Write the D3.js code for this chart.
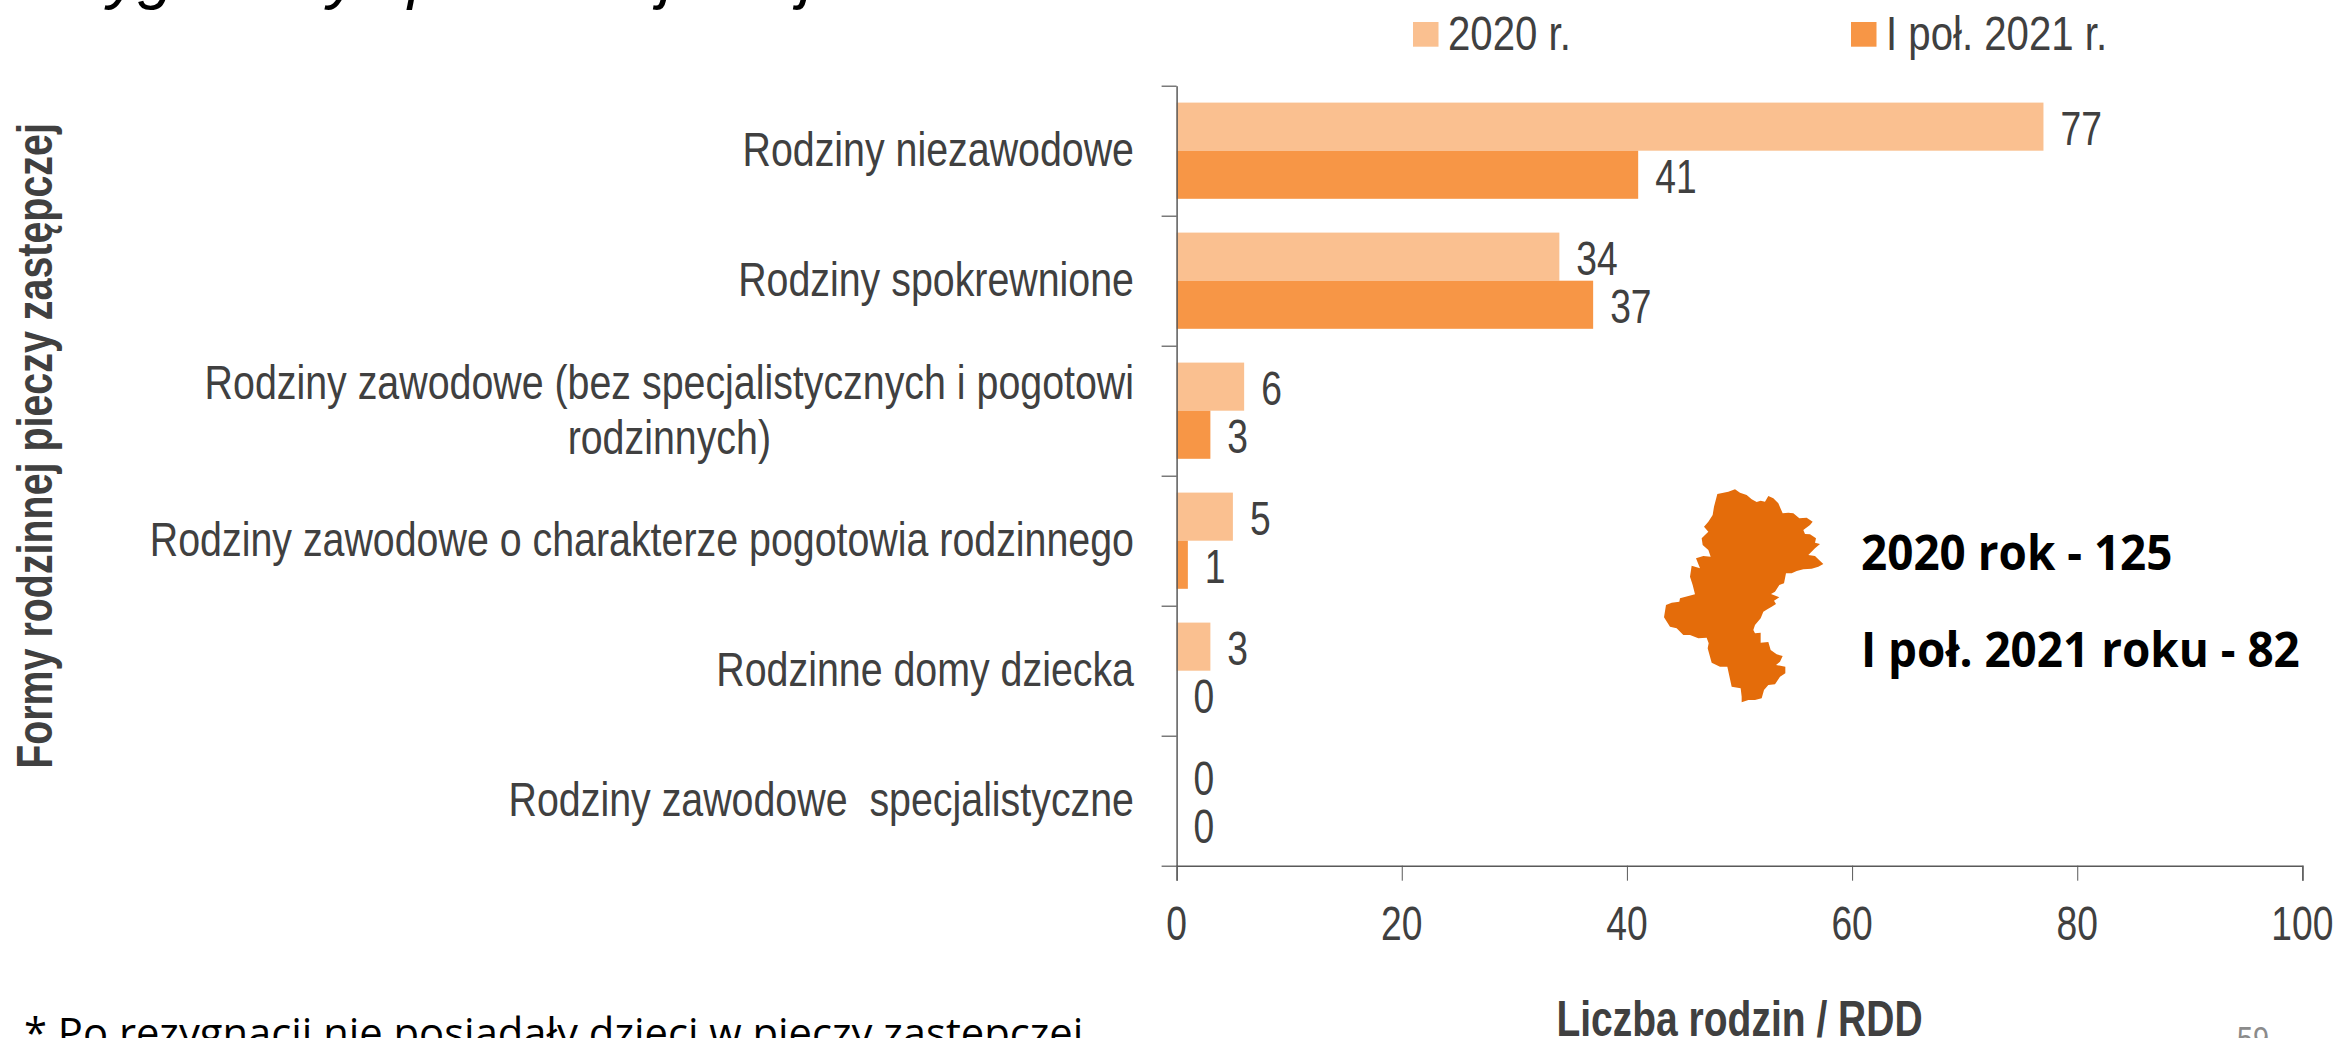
<!DOCTYPE html>
<html>
<head>
<meta charset="utf-8">
<script src="https://cdn.jsdelivr.net/npm/d3@7"></script>
<style>
html, body { margin:0; padding:0; background:#fff; overflow:hidden; }
text { font-family:"Liberation Sans", Arial, sans-serif; white-space:pre; }
</style>
</head>
<body>
<div id="chart"></div>
<script>
var categories = [
  ["Rodziny niezawodowe"],
  ["Rodziny spokrewnione"],
  ["Rodziny zawodowe (bez specjalistycznych i pogotowi", "rodzinnych)"],
  ["Rodziny zawodowe o charakterze pogotowia rodzinnego"],
  ["Rodzinne domy dziecka"],
  ["Rodziny zawodowe  specjalistyczne"]
];
var seriesNames = ["2020 r.", "I poł. 2021 r."];
var values2020 = [77, 34, 6, 5, 3, 0];
var values2021 = [41, 37, 3, 1, 0, 0];
var xTicks = [0, 20, 40, 60, 80, 100];
var xDomain = [0, 100];
var summaryLines = ["2020 rok - 125", "I poł. 2021 roku - 82"];
var yTitle = "Formy rodzinnej pieczy zastępczej";
var xTitle = "Liczba rodzin / RDD";
var footnote = "* Po rezygnacji nie posiadały dzieci w pieczy zastępczej";
var pageNumber = "59";
// tips of the cropped slide title that still show at the top edge
var titleTips = [["y", 108], ["g", 138], ["y", 328], ["p", 408], ["j", 660], ["j", 800]];
// region outline
var regionOutline = [[285,58],[300,68],[320,75],[335,88],[350,96],[362,92],[375,95],[385,78],[400,85],[415,100],[428,130],[445,128],[460,130],[478,145],[500,143],[518,155],[510,165],[490,180],[495,192],[510,193],[528,205],[525,218],[540,222],[525,235],[505,255],[525,258],[535,268],[550,282],[535,290],[515,296],[490,298],[470,303],[455,310],[438,310],[432,340],[418,345],[405,365],[393,372],[418,382],[402,392],[408,402],[395,410],[382,418],[370,425],[362,445],[345,465],[340,480],[345,490],[362,488],[362,518],[385,516],[392,540],[410,553],[428,558],[420,575],[408,585],[436,590],[436,610],[420,620],[405,643],[385,645],[372,660],[365,685],[345,690],[325,690],[305,697],[305,680],[302,655],[275,650],[262,590],[240,590],[215,578],[203,535],[206,520],[200,503],[175,505],[150,495],[130,495],[110,475],[90,470],[72,442],[78,405],[95,398],[118,395],[120,385],[165,373],[158,345],[150,320],[155,287],[180,295],[168,265],[190,258],[212,260],[205,240],[188,225],[185,205],[205,185],[192,170],[205,155],[218,135],[222,110],[232,72],[265,65],[285,58]];

var width = 2339, height = 1038;
var plot = {left:1176.6, right:2302.4, top:85.7, bottom:865.7};
var textColor = "#404040", lightBar = "#FAC090", darkBar = "#F79646", axisColor = "#595959";

var svg = d3.select("#chart").append("svg")
  .attr("width", width)
  .attr("height", height)
  .attr("viewBox", [0, 0, width, height].join(" "));

var x = d3.scaleLinear().domain(xDomain).range([plot.left, plot.right]);
var y = d3.scaleBand().domain(d3.range(categories.length)).range([plot.top, plot.bottom]).paddingInner(0.26).paddingOuter(0.13);

// narrow text: same heights as the slide, squeezed along the line
function squeezedText(str, px, py, size, squeeze, anchor, opts) {
  opts = opts || {};
  var t = svg.append("text")
    .attr("transform", "translate(" + px + "," + py + ")" + (opts.rotate ? " rotate(" + opts.rotate + ")" : "") + " scale(" + squeeze + ",1)")
    .attr("text-anchor", anchor)
    .attr("font-size", size)
    .attr("font-weight", opts.weight || "normal")
    .attr("fill", opts.fill || textColor)
    .text(str);
  if (opts.family) {
    t.style("font-family", opts.family);
  }
  return t;
}

function drawBars(values, color, offset, cls) {
  svg.selectAll("rect." + cls)
    .data(values)
    .enter().append("rect")
    .attr("class", cls)
    .attr("x", x(0))
    .attr("y", function(d, i) { return y(i) + offset; })
    .attr("width", function(d) { return x(d) - x(0); })
    .attr("height", y.bandwidth() / 2)
    .attr("fill", color);
}
drawBars(values2020, lightBar, 0, "s2020");
drawBars(values2021, darkBar, y.bandwidth() / 2, "s2021");

function drawValues(values, offset) {
  values.forEach(function(d, i) {
    squeezedText(d, x(d) + 17, y(i) + offset + 18, 49, 0.76, "start");
  });
}
drawValues(values2020, y.bandwidth() / 4);
drawValues(values2021, y.bandwidth() * 3 / 4);

// axes
var xAxis = svg.append("g").attr("transform", "translate(0," + plot.bottom + ")")
  .call(d3.axisBottom(x).tickValues(xTicks).tickSize(15).tickFormat(""));
xAxis.selectAll("path").attr("stroke", axisColor).attr("stroke-width", 1.5);
xAxis.selectAll("line").attr("stroke", axisColor).attr("stroke-width", 1);
xTicks.forEach(function(t) {
  squeezedText(t, x(t), 940, 49, 0.76, "middle");
});

var yEdges = d3.scaleLinear().domain([0, categories.length]).range([plot.top, plot.bottom]);
var yAxis = svg.append("g").attr("transform", "translate(" + plot.left + ",0)")
  .call(d3.axisLeft(yEdges).tickValues(d3.range(categories.length + 1)).tickSize(15).tickSizeOuter(0).tickFormat(""));
yAxis.selectAll("path").attr("stroke", axisColor).attr("stroke-width", 1.5);
yAxis.selectAll("line").attr("stroke", axisColor).attr("stroke-width", 1.2);

// category labels
categories.forEach(function(lines, i) {
  var cy = y(i) + y.bandwidth() / 2;
  if (lines.length === 1) {
    squeezedText(lines[0], 1134, cy + 15, 48, 0.82, "end");
  } else {
    squeezedText(lines[0], 1134, cy - 12, 48, 0.82, "end");
    squeezedText(lines[1], 771, cy + 43, 48, 0.82, "end");
  }
});

// axis titles
squeezedText(xTitle, 1739.5, 1036, 50, 0.78, "middle", {weight:"bold"});
squeezedText(yTitle, 51.5, 446, 50, 0.788, "middle", {weight:"bold", rotate:-90});

// legend
var legendX = [1413, 1851];
seriesNames.forEach(function(name, i) {
  svg.append("rect")
    .attr("x", legendX[i]).attr("y", 22).attr("width", 25.5).attr("height", 24.7)
    .attr("fill", i === 0 ? lightBar : darkBar);
  squeezedText(name, legendX[i] + 35, 50, 49, 0.82, "start");
});

// region map and totals
var mapX = d3.scaleLinear().domain([0, 600]).range([1640, 1840]);
var mapY = d3.scaleLinear().domain([0, 750]).range([470, 720]);
svg.append("path")
  .attr("d", d3.line().x(function(d) { return mapX(d[0]); }).y(function(d) { return mapY(d[1]); })(regionOutline) + "Z")
  .attr("fill", "#E46C0A");

summaryLines.forEach(function(line, i) {
  squeezedText(line, 1861, 570 + i * 97, 48, 0.955, "start", {weight:"bold", fill:"#000", family:"'Open Sans', sans-serif"});
});

// cropped title and footnote
titleTips.forEach(function(t) {
  svg.append("text")
    .attr("x", t[1]).attr("y", -3)
    .attr("font-size", 64)
    .attr("font-style", "italic")
    .attr("fill", "#000")
    .text(t[0]);
});
squeezedText(footnote, 24, 1048, 42, 0.994, "start", {fill:"#000", family:"'Open Sans', sans-serif"});
squeezedText(pageNumber, 2237, 1051, 36, 0.8, "start", {fill:"#8B8B8B"});
</script>
</body>
</html>
